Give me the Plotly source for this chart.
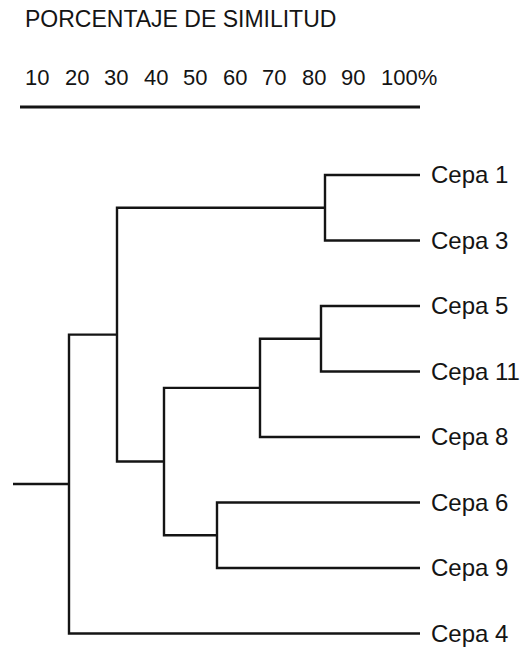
import plotly.graph_objects as go

# ---- data ----
leaves = ["Cepa 1", "Cepa 3", "Cepa 5", "Cepa 11", "Cepa 8", "Cepa 6", "Cepa 9", "Cepa 4"]
leaf_similarity = 100.0
# merges: (child_a, child_b, similarity %); leaves are 0..7, merged nodes numbered 8, 9, ...
merge_a = [0, 2, 9, 5, 10, 8, 13]
merge_b = [1, 3, 4, 6, 11, 12, 7]
merge_similarity = [76.25, 75.25, 60.0, 49.25, 36.0, 24.25, 12.25]
root_branch_start = -1.75
scale_min, scale_max = 0, 100
tick_values = [10, 20, 30, 40, 50, 60, 70, 80, 90, 100]
tick_labels = ["10", "20", "30", "40", "50", "60", "70", "80", "90", "100%"]
title_text = "PORCENTAJE DE SIMILITUD"

# ---- build dendrogram segments ----
node_x = {i: leaf_similarity for i in range(len(leaves))}
node_y = {i: float(i) for i in range(len(leaves))}
xs, ys = [], []
for k, (a, b, s) in enumerate(zip(merge_a, merge_b, merge_similarity)):
    nid = len(leaves) + k
    xs += [node_x[a], s, s, node_x[b], None]
    ys += [node_y[a], node_y[a], node_y[b], node_y[b], None]
    node_x[nid] = s
    node_y[nid] = (node_y[a] + node_y[b]) / 2
root = len(leaves) + len(merge_a) - 1
xs += [node_x[root], root_branch_start, None]
ys += [node_y[root], node_y[root], None]

W, H = 525, 653
FONT = "Liberation Sans, Arial, Helvetica, sans-serif"
INK = "#141414"

fig = go.Figure()
fig.add_trace(go.Scatter(x=xs, y=ys, mode="lines",
                         line=dict(color=INK, width=2.4),
                         hoverinfo="skip", showlegend=False))

fig.update_layout(
    width=W, height=H,
    margin=dict(l=0, r=0, t=0, b=0),
    paper_bgcolor="white", plot_bgcolor="white",
    template="none",
    showlegend=False,
    xaxis=dict(domain=[0, 420 / W], range=[-5, 100], visible=False, fixedrange=True),
    xaxis2=dict(overlaying="x", range=[4.186, 110.35], visible=False, fixedrange=True),
    yaxis=dict(domain=[0, 1], range=[7.298, -2.672], side="right",
               tickvals=list(range(len(leaves))), ticktext=leaves,
               ticks="", showline=False, showgrid=False, zeroline=False,
               ticklabelstandoff=10, automargin=False,
               tickfont=dict(family=FONT, size=24, color=INK), fixedrange=True),
)

# scale underline (0 - 100 %)
fig.add_shape(type="line", xref="x", yref="paper",
              x0=scale_min, x1=scale_max, y0=1 - 107 / H, y1=1 - 107 / H,
              line=dict(color=INK, width=3))

# header scale labels
for v, t in zip(tick_values, tick_labels):
    fig.add_annotation(x=v, xref="x2", y=1 - 77.5 / H, yref="paper",
                       text=t, showarrow=False, xanchor="left", yanchor="middle",
                       font=dict(family=FONT, size=22, color=INK))

fig.add_annotation(x=23 / W, xref="paper", y=1 - 19.5 / H, yref="paper",
                   text=title_text, showarrow=False, xanchor="left", yanchor="middle",
                   font=dict(family=FONT, size=23, color=INK))

fig.write_html(
    "out.html",
    config={"displayModeBar": False, "staticPlot": True},
    post_script="document.body.style.margin='0';document.body.style.overflow='hidden';",
)
